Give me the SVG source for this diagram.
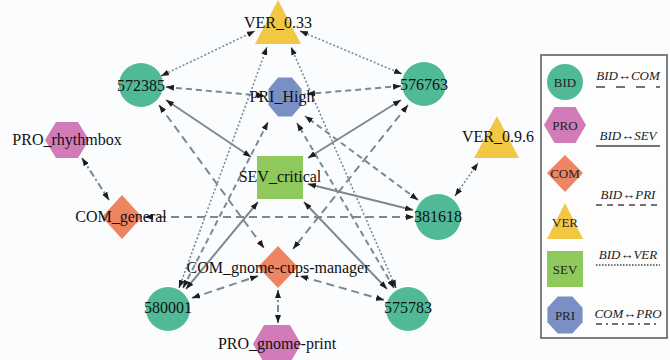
<svg xmlns="http://www.w3.org/2000/svg" width="670" height="360" viewBox="0 0 670 360">
<defs>
<marker id="arr" markerWidth="8" markerHeight="6" refX="8" refY="3" orient="auto-start-reverse" markerUnits="userSpaceOnUse">
<path d="M0,0 L8,3 L0,6 z" fill="#1e1e1e"/>
</marker>
<style>
.e{fill:none;stroke:#7c8a90;stroke-width:2;marker-start:url(#arr);marker-end:url(#arr)}
.sol{}
.com{stroke-dasharray:8 5}
.pri{stroke-dasharray:6 4}
.ver{stroke-dasharray:2 2;stroke-width:1.6}
.pro{stroke-dasharray:7 3 2 3}
.bid{fill:#50b996}
.prs{fill:#d17bb9}
.cm{fill:#ef8463}
.vr{fill:#f2c744}
.sv{fill:#8fc95c}
.pr{fill:#7a8fc3}
.t{font-family:"Liberation Serif","Times New Roman",serif;font-size:16px;fill:#111;text-anchor:middle}
.lt{font-family:"Liberation Serif","Times New Roman",serif;font-size:13px;fill:#222;text-anchor:middle}
.li{font-family:"Liberation Serif","Times New Roman",serif;font-size:13px;font-style:italic;fill:#222;text-anchor:middle}
.ll{fill:none;stroke:#444;stroke-width:1.5}
</style>
</defs>
<rect width="670" height="360" fill="#fbfcfe"/>
<g id="connectors">
<line class="e ver" x1="161" y1="76" x2="255" y2="31"/>
<line class="e ver" x1="300" y1="31" x2="402" y2="74"/>
<line class="e ver" x1="179" y1="288" x2="267" y2="47"/>
<line class="e ver" x1="396" y1="288" x2="291" y2="47"/>
<line class="e ver" x1="455" y1="196" x2="478" y2="163"/>
<line class="e pri" x1="166" y1="87" x2="265" y2="96"/>
<line class="e pri" x1="401" y1="86" x2="307" y2="94"/>
<line class="e pri" x1="183" y1="288" x2="268" y2="122"/>
<line class="e pri" x1="394" y1="288" x2="297" y2="123"/>
<line class="e pri" x1="418" y1="200" x2="305" y2="116"/>
<line class="e sol" x1="166" y1="100" x2="251" y2="157"/>
<line class="e sol" x1="401" y1="100" x2="308" y2="158"/>
<line class="e sol" x1="186" y1="289" x2="258" y2="202"/>
<line class="e sol" x1="387" y1="289" x2="304" y2="202"/>
<line class="e sol" x1="413" y1="210" x2="308" y2="184"/>
<line class="e com" x1="145" y1="217" x2="414" y2="217"/>
<line class="e com" x1="159" y1="105" x2="264" y2="248"/>
<line class="e com" x1="408" y1="105" x2="293" y2="249"/>
<line class="e com" x1="192" y1="298" x2="258" y2="276"/>
<line class="e com" x1="384" y1="300" x2="300" y2="276"/>
<line class="e pro" x1="82" y1="158" x2="109" y2="200"/>
<line class="e pro" x1="278" y1="290" x2="278" y2="323"/>
</g>
<g id="n_ver033"><polygon class="vr" points="278,0 255,44 301,44"/><text class="t" x="278" y="28">VER_0.33</text></g>
<g id="n_572385"><circle class="bid" cx="141" cy="85" r="22"/><text class="t" x="141" y="91">572385</text></g>
<g id="n_576763"><circle class="bid" cx="424" cy="84" r="22"/><text class="t" x="424" y="90">576763</text></g>
<g id="n_prihigh"><polygon class="pr" points="291.9,77.6 301.6,89 301.6,105 291.9,116.4 278.1,116.4 268.4,105 268.4,89 278.1,77.6"/><text class="t" x="282" y="102">PRI_High</text></g>
<g id="n_sevcritical"><rect class="sv" x="257" y="156" width="46" height="43"/><text class="t" x="280" y="182">SEV_critical</text></g>
<g id="n_381618"><circle class="bid" cx="438" cy="217" r="23"/><text class="t" x="438" y="222">381618</text></g>
<g id="n_ver096"><polygon class="vr" points="497,116 474,158 519,158"/><text class="t" x="498" y="142">VER_0.9.6</text></g>
<g id="n_prorhythmbox"><polygon class="prs" points="45,140 56,122 78,122 89,140 78,158 56,158"/><text class="t" x="67" y="145">PRO_rhythmbox</text></g>
<g id="n_comgeneral"><polygon class="cm" points="122,195 142,217 122,239 102,217"/><text class="t" x="121" y="222">COM_general</text></g>
<g id="n_comgnomecups"><polygon class="cm" points="278,246 298,267 278,288 258,267"/><text class="t" x="278" y="273">COM_gnome-cups-manager</text></g>
<g id="n_580001"><circle class="bid" cx="168" cy="309" r="22"/><text class="t" x="168" y="313">580001</text></g>
<g id="n_575783"><circle class="bid" cx="408" cy="309" r="22"/><text class="t" x="408" y="313">575783</text></g>
<g id="n_progprint"><polygon class="prs" points="253,344 264,325 290,325 301,344 290,363 264,363"/><text class="t" x="277" y="349">PRO_gnome-print</text></g>
<g id="legend">
<rect x="541" y="55" width="126" height="283" fill="#fdfdfd" stroke="#555" stroke-width="1.5"/>
<circle class="bid" cx="565" cy="82" r="18"/><text class="lt" x="565" y="87">BID</text>
<polygon class="prs" points="544,125 554.5,107 575.5,107 586,125 575.5,143 554.5,143"/><text class="lt" x="565" y="130">PRO</text>
<polygon class="cm" points="565,155 583,173 565,192 547,173"/><text class="lt" x="565" y="178">COM</text>
<polygon class="vr" points="565,203 547,239 583,239"/><text class="lt" x="565" y="227">VER</text>
<rect class="sv" x="547" y="251" width="36" height="36"/><text class="lt" x="565" y="274">SEV</text>
<polygon class="pr" points="572.3,296.4 582.6,307.7 582.6,322.3 572.3,333.6 557.7,333.6 547.4,322.3 547.4,307.7 557.7,296.4"/><text class="lt" x="565" y="320">PRI</text>
<text class="li" x="628" y="80">BID↔COM</text>
<line class="ll" x1="596" y1="87" x2="660" y2="87" stroke-dasharray="9 11"/>
<text class="li" x="628" y="140">BID↔SEV</text>
<line class="ll" x1="596" y1="146" x2="660" y2="146"/>
<text class="li" x="628" y="199">BID↔PRI</text>
<line class="ll" x1="596" y1="205" x2="660" y2="205" stroke-dasharray="6 5"/>
<text class="li" x="628" y="259">BID↔VER</text>
<line class="ll" x1="596" y1="265" x2="660" y2="265" stroke-dasharray="1.5 1.5"/>
<text class="li" x="628" y="318">COM↔PRO</text>
<line class="ll" x1="596" y1="324" x2="660" y2="324" stroke-dasharray="6 4 2 4"/>
</g>
</svg>
